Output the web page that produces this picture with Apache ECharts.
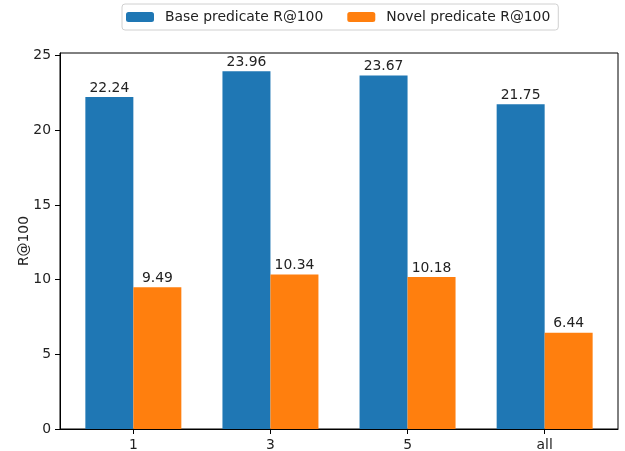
<!DOCTYPE html>
<html>
<head>
<meta charset="utf-8">
<script src="https://cdn.jsdelivr.net/npm/echarts@6/dist/echarts.min.js"></script>
<style>
  html, body { margin: 0; padding: 0; background: #fff; }
  #chart { width: 625px; height: 451px; }
</style>
</head>
<body>
<div id="chart"></div>
<script>
const categories = ['1', '3', '5', 'all'];
const baseR100 = [22.24, 23.96, 23.67, 21.75];
const novelR100 = [9.49, 10.34, 10.18, 6.44];

const font = 'DejaVu Sans';
const fs = 13.9;
const barW = 0.35;

const chart = echarts.init(document.getElementById('chart'));
chart.setOption({
  animation: false,
  textStyle: { fontFamily: font },
  legend: {
    top: 4,
    left: 122,
    itemWidth: 28,
    itemHeight: 10,
    itemGap: 24,
    padding: [6, 8, 6, 4],
    borderColor: '#d0d0d0',
    borderWidth: 1,
    borderRadius: 3,
    textStyle: { fontFamily: font, fontSize: fs, color: '#222', padding: [0, 0, 0, 6] },
    data: ['Base predicate R@100', 'Novel predicate R@100']
  },
  grid: {
    left: 60, right: 7, top: 53, bottom: 22,
    outerBoundsMode: 'none',
    show: true, borderColor: '#000', borderWidth: 1
  },
  xAxis: {
    type: 'value',
    min: -0.535,
    max: 3.535,
    splitLine: { show: false },
    axisLine: { show: true, onZero: false, lineStyle: { color: '#000' } },
    axisTick: { show: true, length: 5, customValues: [0, 1, 2, 3], lineStyle: { color: '#000' } },
    axisLabel: {
      customValues: [0, 1, 2, 3],
      formatter: v => categories[Math.round(v)],
      margin: 9,
      fontFamily: font, fontSize: fs, color: '#222'
    }
  },
  yAxis: {
    type: 'value',
    min: 0,
    max: 25.18,
    interval: 5,
    name: 'R@100',
    nameLocation: 'middle',
    nameGap: 29,
    nameMoveOverlap: false,
    nameTextStyle: { fontFamily: font, fontSize: fs, color: '#222' },
    splitLine: { show: false },
    axisLine: { show: true, onZero: false, lineStyle: { color: '#000' } },
    axisTick: { show: true, length: 5, lineStyle: { color: '#000' } },
    axisLabel: { margin: 9, fontFamily: font, fontSize: fs, color: '#222' }
  },
  series: [
    {
      name: 'Base predicate R@100',
      type: 'bar',
      barWidth: 48,
      barGap: '-100%',
      itemStyle: { color: '#1f77b4' },
      label: { show: true, position: 'top', distance: 2, fontFamily: font, fontSize: fs, color: '#222',
        formatter: p => p.value[1].toFixed(2) },
      data: baseR100.map((v, i) => [i - barW / 2, v])
    },
    {
      name: 'Novel predicate R@100',
      type: 'bar',
      barWidth: 48,
      barGap: '-100%',
      itemStyle: { color: '#ff7f0e' },
      label: { show: true, position: 'top', distance: 2, fontFamily: font, fontSize: fs, color: '#222',
        formatter: p => p.value[1].toFixed(2) },
      data: novelR100.map((v, i) => [i + barW / 2, v])
    }
  ]
});
</script>
</body>
</html>
